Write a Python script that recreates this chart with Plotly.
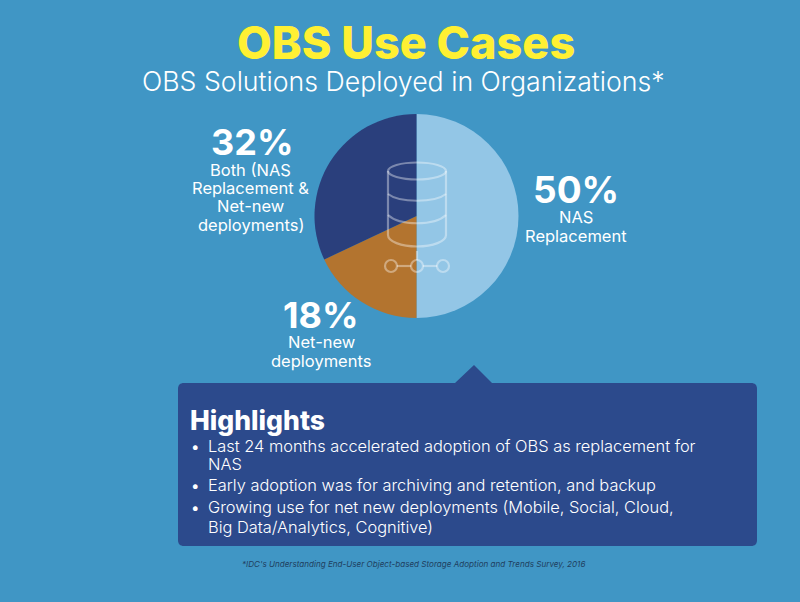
import plotly.graph_objects as go

W, H = 800, 602
FONT = "Inter"

categories = ["NAS Replacement", "Net-new deployments", "Both (NAS Replacement & Net-new deployments)"]
values = [50, 18, 32]
slice_colors = ["#93C6E6", "#B3742F", "#2A3F7C"]

title = "OBS Use Cases"
subtitle = "OBS Solutions Deployed in Organizations*"
highlights_title = "Highlights"
highlight_lines = [
    (True, "Last 24 months accelerated adoption of OBS as replacement for", 446),
    (False, "NAS", 464),
    (True, "Early adoption was for archiving and retention, and backup", 485),
    (True, "Growing use for net new deployments (Mobile, Social, Cloud,", 507),
    (False, "Big Data/Analytics, Cognitive)", 527),
]
footnote = "*IDC's Understanding End-User Object-based Storage Adoption and Trends Survey, 2016"


def px(x):
    return x / W


def py(y):
    return 1 - y / H


def path(cmds):
    out = []
    for c in cmds:
        op, pts = c[0], c[1:]
        out.append(op + " " + " ".join(f"{px(x):.5f},{py(y):.5f}" for x, y in pts))
    return " ".join(out)


def note(text, x, y, size, color="white", weight=400, anchor="center", style="normal"):
    return dict(text=text, x=px(x), y=py(y), xref="paper", yref="paper", xanchor=anchor, yanchor="middle",
                showarrow=False, borderpad=0,
                font=dict(family=FONT, size=size, color=color, weight=weight, style=style))


fig = go.Figure(go.Pie(
    labels=categories, values=values, sort=False, direction="clockwise", rotation=0,
    marker=dict(colors=slice_colors, line=dict(width=0)), textinfo="none", hoverinfo="label+percent",
    showlegend=False,
    domain=dict(x=[px(314.5), px(518.5)], y=[py(318), py(114)]),
))

ICON = "rgba(255,255,255,0.38)"
cx, rx = 417, 29
shapes = []


def icon_path(d):
    shapes.append(dict(type="path", xref="paper", yref="paper", path=d, line=dict(color=ICON, width=2.2),
                       fillcolor="rgba(0,0,0,0)", layer="above"))


k = 0.5523
icon_path(path([
    ("M", (cx - rx, 171)),
    ("C", (cx - rx, 171 - 8.5 * k), (cx - rx * k, 162.5), (cx, 162.5)),
    ("C", (cx + rx * k, 162.5), (cx + rx, 171 - 8.5 * k), (cx + rx, 171)),
    ("C", (cx + rx, 171 + 8.5 * k), (cx + rx * k, 179.5), (cx, 179.5)),
    ("C", (cx - rx * k, 179.5), (cx - rx, 171 + 8.5 * k), (cx - rx, 171)),
]))
icon_path(path([
    ("M", (cx - rx, 171)), ("L", (cx - rx, 235)),
    ("C", (cx - rx, 235 + 11.5 * k), (cx - rx * k, 246.5), (cx, 246.5)),
    ("C", (cx + rx * k, 246.5), (cx + rx, 235 + 11.5 * k), (cx + rx, 235)),
    ("L", (cx + rx, 171)),
]))
for side, bottom in [(194, 202), (215, 225)]:
    icon_path(path([
        ("M", (cx - rx, side)),
        ("C", (cx - rx * 0.6, bottom + 1), (cx + rx * 0.6, bottom + 1), (cx + rx, side)),
    ]))
icon_path(path([("M", (cx, 251)), ("L", (cx, 260))]))
icon_path(path([("M", (397, 266)), ("L", (411, 266))]))
icon_path(path([("M", (423, 266)), ("L", (437, 266))]))
for c in [391, 417, 443]:
    shapes.append(dict(type="circle", xref="paper", yref="paper", x0=px(c - 6), x1=px(c + 6),
                       y0=py(266 + 6), y1=py(266 - 6), line=dict(color=ICON, width=2.2),
                       fillcolor="rgba(0,0,0,0)", layer="above"))

BOX = "#2C4A8C"
L, R, T, B, r = 178, 757, 383, 546, 6
shapes.append(dict(type="path", xref="paper", yref="paper", fillcolor=BOX, line=dict(width=0), layer="below",
                   path=path([
                       ("M", (L + r, T)), ("L", (455, T)), ("L", (474, 365)), ("L", (492, T)), ("L", (R - r, T)),
                       ("C", (R - 2, T), (R, T + 2), (R, T + r)), ("L", (R, B - r)),
                       ("C", (R, B - 2), (R - 2, B), (R - r, B)), ("L", (L + r, B)),
                       ("C", (L + 2, B), (L, B - 2), (L, B - r)), ("L", (L, T + r)),
                       ("C", (L, T + 2), (L + 2, T), (L + r, T)),
                   ]) + " Z"))

ann = [
    note(title, 406, 43, 45, color="#FFF033", weight=800),
    note(subtitle, 403.5, 81, 26.7, weight=300),
    note(f"{values[2]}%", 252, 142, 36, weight=700),
    note("Both (NAS", 251, 170, 16.5),
    note("Replacement &amp;", 251, 188, 16.5),
    note("Net-new", 251, 206.5, 16.5),
    note("deployments)", 251, 225, 16.5),
    note(f"{values[0]}%", 576, 190, 37, weight=700),
    note("NAS", 576, 217, 16.5),
    note("Replacement", 576, 236, 16.5),
    note(f"{values[1]}%", 321, 315, 36, weight=700),
    note("Net-new", 321, 342, 16.5),
    note("deployments", 321, 361, 16.5),
    note(highlights_title, 189, 420, 26.5, weight=800, anchor="left"),
    note(footnote, 413, 564, 8.1, color="#1F3F60", style="italic"),
]
for bullet, text, y in highlight_lines:
    ann.append(note(text, 206.5, y, 16.4, weight=300, anchor="left"))
    if bullet:
        ann.append(note("•", 190, y, 15, anchor="left"))

fig.update_layout(
    width=W, height=H, margin=dict(l=0, r=0, t=0, b=0),
    paper_bgcolor="#4096C5", plot_bgcolor="#4096C5",
    shapes=shapes, annotations=ann, font=dict(family=FONT, color="white"),
)
fig.write_html("out.html", config=dict(displayModeBar=False),
               post_script="document.body.style.margin='0';document.body.style.background='#4096C5';")
